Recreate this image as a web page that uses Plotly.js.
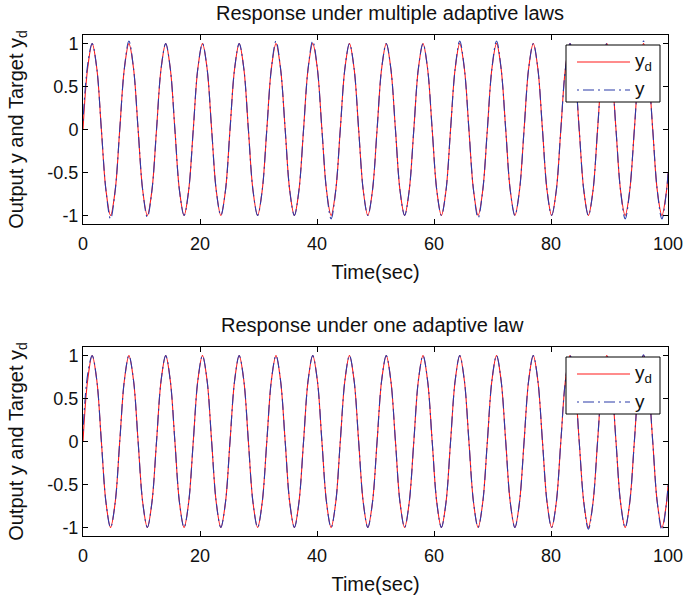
<!DOCTYPE html>
<html>
<head>
<meta charset="utf-8">
<script src="https://cdn.plot.ly/plotly-3.0.1.min.js"></script>
<style>html,body{margin:0;padding:0;background:#fff;}#chart{width:686px;height:600px;}</style>
</head>
<body>
<div id="chart"></div>
<script>
// Time samples (sec), read at eighth-period spacing along the curves
const time = [
  0, 0.79, 1.57, 2.36, 3.14, 3.93, 4.71, 5.50,
  6.28, 7.07, 7.85, 8.64, 9.42, 10.21, 11.00, 11.78,
  12.57, 13.35, 14.14, 14.92, 15.71, 16.49, 17.28, 18.06,
  18.85, 19.63, 20.42, 21.21, 21.99, 22.78, 23.56, 24.35,
  25.13, 25.92, 26.70, 27.49, 28.27, 29.06, 29.85, 30.63,
  31.42, 32.20, 32.99, 33.77, 34.56, 35.34, 36.13, 36.91,
  37.70, 38.48, 39.27, 40.06, 40.84, 41.63, 42.41, 43.20,
  43.98, 44.77, 45.55, 46.34, 47.12, 47.91, 48.69, 49.48,
  50.27, 51.05, 51.84, 52.62, 53.41, 54.19, 54.98, 55.76,
  56.55, 57.33, 58.12, 58.90, 59.69, 60.48, 61.26, 62.05,
  62.83, 63.62, 64.40, 65.19, 65.97, 66.76, 67.54, 68.33,
  69.12, 69.90, 70.69, 71.47, 72.26, 73.04, 73.83, 74.61,
  75.40, 76.18, 76.97, 77.75, 78.54, 79.33, 80.11, 80.90,
  81.68, 82.47, 83.25, 84.04, 84.82, 85.61, 86.39, 87.18,
  87.96, 88.75, 89.54, 90.32, 91.11, 91.89, 92.68, 93.46,
  94.25, 95.03, 95.82, 96.60, 97.39, 98.17, 98.96, 99.75,
  100
];
// Target y_d (same in both panels)
const yTarget = [
  0, 0.71, 1, 0.71, 0, -0.71, -1, -0.71,
  0, 0.71, 1, 0.71, 0, -0.71, -1, -0.71,
  0, 0.71, 1, 0.71, 0, -0.71, -1, -0.71,
  0, 0.71, 1, 0.71, 0, -0.71, -1, -0.71,
  0, 0.71, 1, 0.71, 0, -0.71, -1, -0.71,
  0, 0.71, 1, 0.71, 0, -0.71, -1, -0.71,
  0, 0.71, 1, 0.71, 0, -0.71, -1, -0.71,
  0, 0.71, 1, 0.71, 0, -0.71, -1, -0.71,
  0, 0.71, 1, 0.71, 0, -0.71, -1, -0.71,
  0, 0.71, 1, 0.71, 0, -0.71, -1, -0.71,
  0, 0.71, 1, 0.71, 0, -0.71, -1, -0.71,
  0, 0.71, 1, 0.71, 0, -0.71, -1, -0.71,
  0, 0.71, 1, 0.71, 0, -0.71, -1, -0.71,
  0, 0.71, 1, 0.71, 0, -0.71, -1, -0.71,
  0, 0.71, 1, 0.71, 0, -0.71, -1, -0.71,
  0, 0.71, 1, 0.71, 0, -0.71, -1, -0.71,
  -0.51
];
// Output y under multiple adaptive laws (top panel)
const yMultiple = [
  0.10, 0.75, 1, 0.71, 0, -0.71, -1.04, -0.71,
  0, 0.71, 1.03, 0.71, 0, -0.71, -1.02, -0.71,
  0, 0.71, 1, 0.71, 0, -0.71, -1, -0.71,
  0, 0.71, 1, 0.71, 0, -0.71, -1, -0.71,
  0, 0.71, 1, 0.71, 0, -0.71, -1, -0.71,
  0, 0.71, 1.03, 0.71, 0, -0.71, -1, -0.71,
  0, 0.71, 1.03, 0.71, 0, -0.71, -1.04, -0.71,
  0, 0.71, 1, 0.71, 0, -0.71, -1, -0.71,
  0, 0.71, 1, 0.71, 0, -0.71, -1, -0.71,
  0, 0.71, 1, 0.71, 0, -0.71, -1, -0.71,
  0, 0.71, 1.03, 0.71, 0, -0.71, -1.03, -0.71,
  0, 0.71, 1.03, 0.71, 0, -0.71, -1, -0.71,
  0, 0.71, 1, 0.71, 0, -0.71, -1, -0.71,
  0, 0.71, 1, 0.71, 0, -0.71, -1, -0.71,
  0, 0.71, 1, 0.71, 0, -0.71, -1.04, -0.71,
  0, 0.71, 1.03, 0.71, 0, -0.71, -1.04, -0.71,
  -0.51
];
// Output y under one adaptive law (bottom panel)
const yOne = [
  0.12, 0.78, 1, 0.71, 0, -0.71, -1, -0.71,
  0, 0.71, 1, 0.71, 0, -0.71, -1, -0.71,
  0, 0.71, 1, 0.71, 0, -0.71, -1, -0.71,
  0, 0.71, 1, 0.71, 0, -0.71, -1, -0.71,
  0, 0.71, 1, 0.71, 0, -0.71, -1, -0.71,
  0, 0.71, 1, 0.71, 0, -0.71, -1, -0.71,
  0, 0.71, 1, 0.71, 0, -0.71, -1, -0.71,
  0, 0.71, 1, 0.71, 0, -0.71, -1, -0.71,
  0, 0.71, 1, 0.71, 0, -0.71, -1, -0.71,
  0, 0.71, 1, 0.71, 0, -0.71, -1, -0.71,
  0, 0.71, 1, 0.71, 0, -0.71, -1, -0.71,
  0, 0.71, 1, 0.71, 0, -0.71, -1, -0.71,
  0, 0.71, 1, 0.71, 0, -0.71, -1, -0.71,
  0, 0.71, 1, 0.71, 0, -0.71, -1.02, -0.71,
  0, 0.71, 1, 0.71, 0, -0.71, -1, -0.71,
  0, 0.71, 1.01, 0.71, 0, -0.71, -1.03, -0.71,
  -0.51
];
const titles = ['Response under multiple adaptive laws', 'Response under one adaptive law'];
const xTicks = [0, 20, 40, 60, 80, 100];
const yTicks = [-1, -0.5, 0, 0.5, 1];
const yTickText = ['-1', '-0.5', '0', '0.5', '1'];
const legendNames = ['y<sub>d</sub>', 'y'];

const FONT = 'Liberation Sans, Arial, Helvetica, sans-serif';
const TXT = '#111';
const red = '#ff1a1a', blue = '#2a3aa8';
const DASHDOT = '2px,4px,11px,4px';

// pixel -> paper helpers (plot area: x 83..668, y 35..536)
const L = 83, R = 18, T = 35, B = 64, W = 686, H = 600;
const pw = W - L - R, ph = H - T - B;
const px = v => (v - L) / pw;
const py = v => (H - B - v) / ph;

const traces = [
  {x: time, y: yTarget, xaxis: 'x', yaxis: 'y', name: legendNames[0], showlegend: false,
   mode: 'lines', line: {color: red, width: 1.1, shape: 'spline'}},
  {x: time, y: yMultiple, xaxis: 'x', yaxis: 'y', name: legendNames[1], showlegend: false,
   mode: 'lines', line: {color: blue, width: 1.1, dash: DASHDOT, shape: 'spline'}},
  {x: time, y: yTarget, xaxis: 'x2', yaxis: 'y2', name: legendNames[0], showlegend: false,
   mode: 'lines', line: {color: red, width: 1.1, shape: 'spline'}},
  {x: time, y: yOne, xaxis: 'x2', yaxis: 'y2', name: legendNames[1], showlegend: false,
   mode: 'lines', line: {color: blue, width: 1.1, dash: DASHDOT, shape: 'spline'}}
];

function xAx(anchor) {
  return {
    anchor: anchor, domain: [0, 1], range: [0, 100],
    tickvals: xTicks, ticktext: xTicks.map(String),
    ticks: 'inside', ticklen: 5, tickcolor: '#000', tickwidth: 1,
    showline: true, linecolor: '#000', linewidth: 1, mirror: 'ticks',
    showgrid: false, zeroline: false, ticklabelstandoff: 3,
    tickfont: {family: FONT, size: 18, color: TXT},
    title: {text: 'Time(sec)', font: {family: FONT, size: 20, color: TXT}, standoff: 12}
  };
}
function yAx(anchor, domain) {
  return {
    anchor: anchor, domain: domain, range: [-1.1, 1.1],
    tickvals: yTicks, ticktext: yTickText,
    ticks: 'inside', ticklen: 5, tickcolor: '#000', tickwidth: 1,
    showline: true, linecolor: '#000', linewidth: 1, mirror: 'ticks',
    showgrid: false, zeroline: false,
    tickfont: {family: FONT, size: 18, color: TXT},
    title: {text: 'Output y and Target y<sub>d</sub>', font: {family: FONT, size: 20, color: TXT}, standoff: 18}
  };
}

// Legend drawn as boxes, sample lines and labels (one per panel)
const shapes = [];
const annotations = [];
[0, 312].forEach(off => {
  shapes.push({type: 'rect', xref: 'paper', yref: 'paper',
    x0: px(566), x1: px(660), y0: py(45 + off), y1: py(102 + off),
    fillcolor: '#fff', line: {color: '#000', width: 1}, layer: 'above'});
  shapes.push({type: 'line', xref: 'paper', yref: 'paper',
    x0: px(577), x1: px(630), y0: py(62 + off), y1: py(62 + off),
    line: {color: red, width: 1.1}, layer: 'above'});
  shapes.push({type: 'line', xref: 'paper', yref: 'paper',
    x0: px(577), x1: px(630), y0: py(90 + off), y1: py(90 + off),
    line: {color: blue, width: 1.1, dash: DASHDOT}, layer: 'above'});
  annotations.push({text: legendNames[0], xref: 'paper', yref: 'paper',
    x: px(633), y: py(62 + off), xanchor: 'left', yanchor: 'middle', showarrow: false,
    font: {family: FONT, size: 19, color: TXT}});
  annotations.push({text: legendNames[1], xref: 'paper', yref: 'paper',
    x: px(633), y: py(89 + off), xanchor: 'left', yanchor: 'middle', showarrow: false,
    font: {family: FONT, size: 19, color: TXT}});
});
annotations.push({text: titles[0], xref: 'paper', yref: 'paper', x: 0.5, y: 1, yshift: 22, xshift: 14,
  xanchor: 'center', yanchor: 'middle', showarrow: false,
  font: {family: FONT, size: 20, color: TXT}});
annotations.push({text: titles[1], xref: 'paper', yref: 'paper', x: 0.5, y: py(347), yshift: 22, xshift: -3,
  xanchor: 'center', yanchor: 'middle', showarrow: false,
  font: {family: FONT, size: 20, color: TXT}});

const layout = {
  width: W, height: H,
  margin: {l: L, r: R, t: T, b: B},
  paper_bgcolor: '#fff', plot_bgcolor: '#fff',
  font: {family: FONT, color: TXT},
  showlegend: false,
  xaxis: xAx('y'),
  yaxis: yAx('x', [py(224), 1]),
  xaxis2: xAx('y2'),
  yaxis2: yAx('x2', [0, py(347)]),
  shapes: shapes,
  annotations: annotations
};

Plotly.newPlot('chart', traces, layout, {displayModeBar: false, staticPlot: true});
</script>
</body>
</html>
